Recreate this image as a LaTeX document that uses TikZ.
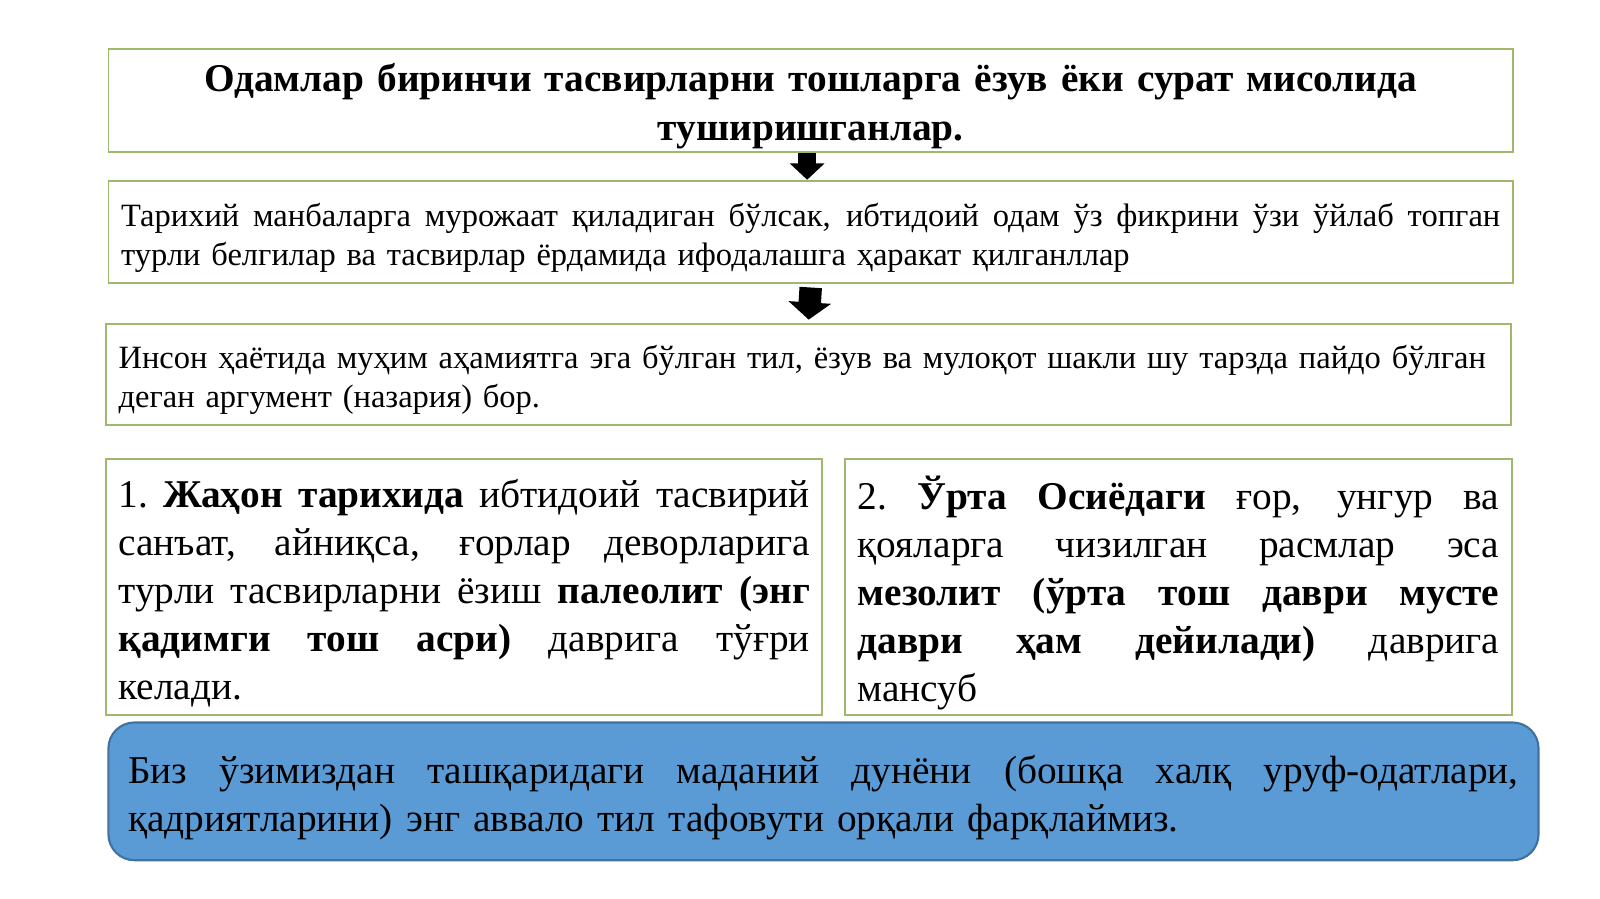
\documentclass[tikz,border=0pt]{standalone}
\usepackage{fontspec}
\setmainfont{Liberation Serif}
\usetikzlibrary{arrows.meta}
\definecolor{boxgreen}{RGB}{160,184,110}
\definecolor{bluefill}{RGB}{91,155,213}
\definecolor{blueline}{RGB}{65,113,156}
\newcommand\jline[1]{\hbox to\hsize{\spaceskip=\fontdimen2\font plus 1fil\relax\xspaceskip=\spaceskip #1}}
\newcommand\lastline[1]{\hbox{#1}}
\tikzset{
  gbox/.style={draw=boxgreen, line width=0.5pt, fill=white, inner sep=0pt, anchor=center},
  txt/.style={inner sep=0pt, anchor=center, align=left,
    execute at begin node={\hbadness=10000 \hfuzz=20pt}},
  smalltext/.style={font=\fontsize{9.25}{11.03}\selectfont},
  bigtext/.style={font=\fontsize{11.2}{13.64}\selectfont},
  bigarrow/.style={draw=black, line width=#1},
}
\begin{document}
\begin{tikzpicture}[x=0.010204cm,y=-0.010204cm]
\useasboundingbox[fill=white] (0,0) rectangle (1568,881);

% boxes
\node[gbox, minimum width=14.051cm, minimum height=1.031cm] (b1) at (794.5,98.5) {};
\node[gbox, minimum width=14.051cm, minimum height=1.020cm] (b2) at (794.5,227) {};
\node[gbox, minimum width=14.051cm, minimum height=1.010cm] (b3) at (792.5,367.0) {};
\node[gbox, minimum width=7.163cm, minimum height=2.561cm] (b4) at (455,575.5) {};
\node[gbox, minimum width=6.673cm, minimum height=2.561cm] (b5) at (1155,575.5) {};
\node[draw=blueline, fill=bluefill, line width=0.6pt, rounded corners=0.26cm, inner sep=0pt,
      minimum width=14.306cm, minimum height=1.378cm] (b6) at (807,775.5) {};

% texts
\node[txt, align=center, text width=13.9cm, font=\bfseries\fontsize{11.2}{13.9}\selectfont]
  (t1) at ([yshift=-0.06cm]b1.center)
  {Одамлар биринчи тасвирларни тошларга ёзув ёки сурат мисолида\\туширишганлар.};

\node[txt, smalltext, text width=13.796cm] (t2) at ([yshift=-0.06cm]b2.center)
  {\jline{Тарихий манбаларга мурожаат қиладиган бўлсак, ибтидоий одам ўз фикрини ўзи ўйлаб топган}
   \lastline{турли белгилар ва тасвирлар ёрдамида ифодалашга ҳаракат қилганллар}};

\node[txt, smalltext, text width=13.806cm] (t3) at ([yshift=-0.055cm]b3.center)
  {\lastline{Инсон ҳаётида муҳим аҳамиятга эга бўлган тил, ёзув ва мулоқот шакли шу тарзда пайдо бўлган}
   \lastline{деган аргумент (назария) бор.}};

\node[txt, bigtext, text width=6.918cm] (t4) at ([yshift=-0.06cm]b4.center)
  {\jline{1. \textbf{Жаҳон тарихида} ибтидоий тасвирий}
   \jline{санъат, айниқса, ғорлар деворларига}
   \jline{турли тасвирларни ёзиш \textbf{палеолит (энг}}
   \jline{\textbf{қадимги тош асри)} даврига тўғри}
   \lastline{келади.}};

\node[txt, bigtext, text width=6.418cm] (t5) at ([yshift=-0.06cm]b5.center)
  {\jline{2. \textbf{Ўрта Осиёдаги} ғор, унгур ва}
   \jline{қояларга чизилган расмлар эса}
   \jline{\textbf{мезолит (ўрта тош даври мусте}}
   \jline{\textbf{даври ҳам дейилади)} даврига}
   \lastline{мансуб}};

\node[txt, bigtext, text width=13.908cm] (t6) at ([yshift=-0.06cm]b6.center)
  {\jline{Биз ўзимиздан ташқаридаги маданий дунёни (бошқа халқ уруф-одатлари,}
   \lastline{қадриятларини) энг аввало тил тафовути орқали фарқлаймиз.}};

% arrows
\draw[bigarrow=4.94pt, -{Triangle[width=9.58pt, length=4.64pt]}]
  ([xshift=-0.0357cm]b1.south) -- ([xshift=-0.0357cm]b2.north);
\draw[bigarrow=6.39pt, -{Triangle[width=11.9pt, length=4.9pt]}]
  ([yshift=-0.04cm]b2.south) -- ([yshift=0.035cm]b3.north);
\end{tikzpicture}
\end{document}
